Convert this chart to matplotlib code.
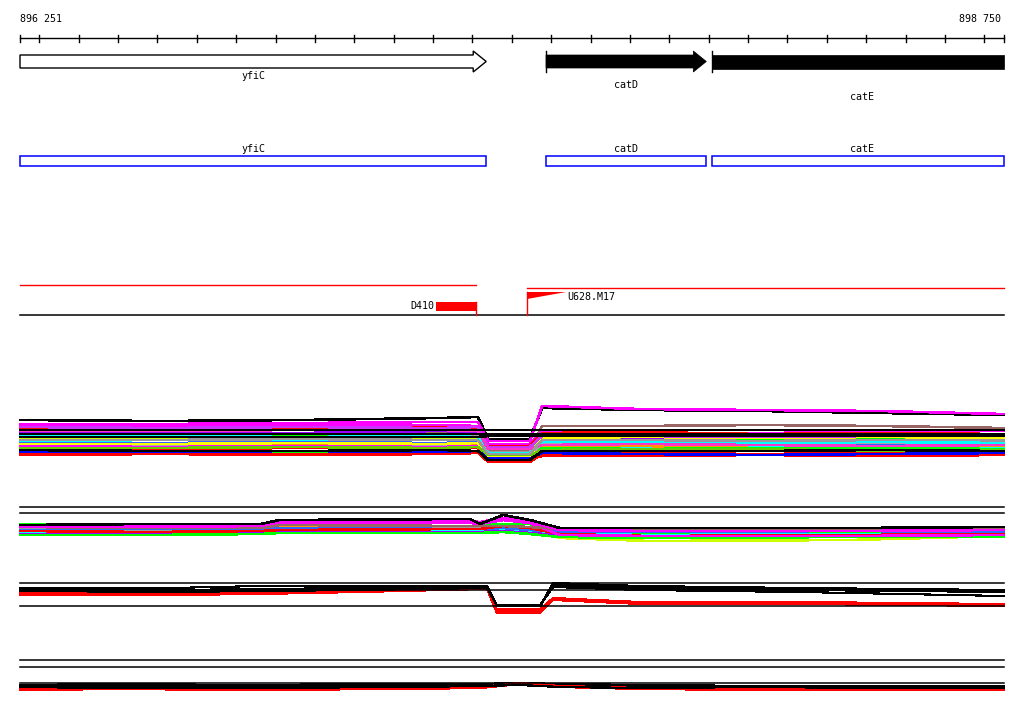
import numpy as np
import matplotlib.pyplot as plt

# genome window
start, end = 896251, 898750
ticks = list(range(896300, 898701, 100))

# genes: name, start, end
gene_names = ["yfiC", "catD", "catE"]
gene_starts = [896251, 897587, 898009]
gene_ends = [897435, 897994, 898750]

# red feature track
d410 = (897307, 897409)
u628 = (897539, 897638)

# expression panel 1 (x positions in bp, values as row positions)
x1 = [896251, 896607, 896962, 897318, 897414, 897440, 897546, 897577, 897826, 898130, 898435, 898750]
p1_lines = [
    ("#000000", [420, 421, 420, 418, 417, 439, 439, 408, 410, 411, 413, 415]),
    ("#ff00ff", [424, 424, 423, 422, 422, 441, 441, 406, 409, 410, 411, 414]),
    ("#996666", [434, 434, 433, 433, 433, 450, 450, 426, 426, 425, 426, 428]),
    ("#ff00ff", [426, 426, 425, 425, 426, 444, 444, 432, 433, 433, 432, 431]),
    ("#ff0000", [429, 428, 428, 427, 428, 446, 446, 433, 432, 434, 433, 434]),
    ("#9900ff", [433, 432, 433, 431, 432, 448, 448, 437, 438, 438, 437, 437]),
    ("#999999", [435, 434, 435, 434, 435, 452, 452, 441, 441, 440, 442, 441]),
    ("#00ff00", [437, 437, 436, 437, 437, 454, 454, 439, 440, 440, 439, 439]),
    ("#ccff00", [439, 438, 438, 439, 438, 455, 455, 435, 436, 436, 435, 436]),
    ("#00ffff", [441, 440, 441, 440, 441, 461, 461, 447, 447, 446, 447, 447]),
    ("#3366ff", [443, 443, 442, 443, 442, 457, 457, 444, 445, 444, 445, 446]),
    ("#ff9900", [445, 445, 444, 445, 444, 456, 456, 446, 446, 448, 447, 446]),
    ("#aaaaaa", [447, 446, 447, 446, 447, 458, 458, 443, 443, 444, 443, 444]),
    ("#ff00ff", [446, 447, 446, 447, 446, 459, 459, 449, 450, 450, 449, 450]),
    ("#ff0000", [449, 449, 448, 449, 448, 457, 457, 452, 452, 451, 452, 452]),
    ("#00ff00", [451, 452, 452, 451, 452, 460, 460, 448, 449, 448, 448, 449]),
    ("#ff0000", [453, 453, 454, 453, 452, 462, 462, 454, 455, 454, 455, 454]),
    ("#ff0000", [455, 454, 455, 454, 453, 459, 459, 456, 456, 455, 456, 455]),
    ("#0000ff", [452, 452, 451, 452, 451, 458, 458, 453, 454, 455, 454, 453]),
    ("#00ffff", [436, 436, 437, 436, 437, 453, 453, 442, 442, 443, 442, 443]),
    ("#ffff00", [444, 444, 443, 444, 443, 456, 456, 438, 437, 438, 437, 438]),
    ("#cc33ff", [427, 428, 427, 428, 427, 447, 447, 436, 436, 437, 436, 436]),
    ("#ff33cc", [431, 431, 430, 430, 431, 449, 449, 445, 444, 445, 446, 445]),
    ("#66cc00", [448, 448, 447, 448, 447, 455, 455, 450, 449, 449, 451, 450]),
    ("#999999", [440, 440, 439, 440, 440, 454, 454, 440, 440, 441, 440, 440]),
    ("#000000", [450, 451, 451, 450, 451, 460, 460, 451, 451, 451, 450, 451]),
    ("#000000", [437, 437, 437, 437, 437, 436, 436, 436, 436, 436, 436, 436]),
    ("#000000", [430, 430, 430, 430, 430, 430, 430, 430, 430, 430, 430, 430]),
    ("#000000", [434, 434, 434, 434, 434, 434, 434, 434, 434, 434, 434, 434]),
]

# expression panel 2
p2_refs = [507, 513]
x2 = [896251, 896581, 896861, 896911, 897394, 897419, 897478, 897546, 897622, 897851, 898359, 898750]
p2_lines = [
    ("#ccff00", [532, 532, 531, 523, 522, 526, 525, 528, 538, 541, 540, 536]),
    ("#00ff00", [524, 525, 524, 520, 519, 525, 524, 524, 533, 534, 533, 532]),
    ("#ff9900", [528, 528, 529, 526, 527, 528, 527, 529, 530, 530, 529, 530]),
    ("#999999", [529, 530, 529, 528, 528, 528, 528, 529, 531, 530, 530, 531]),
    ("#00ffff", [533, 533, 532, 530, 530, 530, 529, 531, 534, 535, 534, 534]),
    ("#3366ff", [530, 529, 530, 528, 529, 529, 528, 530, 532, 532, 531, 532]),
    ("#9900ff", [534, 534, 533, 532, 532, 532, 531, 533, 535, 536, 535, 535]),
    ("#ff0000", [531, 532, 531, 530, 529, 529, 526, 528, 534, 536, 535, 534]),
    ("#00ff00", [535, 535, 534, 533, 533, 533, 532, 534, 537, 538, 537, 537]),
    ("#ff00ff", [526, 526, 527, 524, 523, 524, 520, 523, 535, 536, 536, 535]),
    ("#996666", [527, 528, 528, 525, 526, 526, 526, 527, 529, 529, 530, 529]),
    ("#ff00ff", [527, 527, 526, 522, 521, 522, 518, 522, 530, 531, 531, 530]),
    ("#000000", [525, 524, 524, 520, 519, 524, 515, 520, 528, 528, 528, 527]),
]

# expression panel 3
p3_refs = [583, 590, 606]
x3 = [896251, 896632, 896861, 897114, 897437, 897462, 897572, 897605, 897826, 898232, 898750]
p3_lines = [
    ("#ff0000", [591, 591, 590, 590, 587, 609, 609, 598, 602, 602, 604]),
    ("#ff0000", [593, 593, 592, 591, 588, 611, 611, 598, 603, 603, 605]),
    ("#ff0000", [595, 595, 594, 592, 589, 613, 613, 600, 604, 604, 606]),
    ("#000000", [588, 588, 586, 586, 586, 606, 606, 583, 586, 588, 590]),
    ("#000000", [590, 590, 589, 588, 587, 606, 606, 585, 588, 590, 592]),
    ("#000000", [591, 592, 591, 590, 588, 605, 605, 587, 590, 592, 596]),
]

# expression panel 4
p4_refs = [660, 667, 683]
x4 = [896251, 896505, 896810, 897216, 897419, 897521, 897622, 897826, 898130, 898435, 898750]
p4_lines = [
    ("#000000", [685, 684, 685, 684, 684, 683, 684, 685, 686, 686, 686]),
    ("#000000", [686, 686, 687, 686, 685, 684, 686, 687, 688, 687, 688]),
    ("#ff0000", [689, 688, 690, 688, 687, 683, 686, 688, 689, 689, 690]),
    ("#ff0000", [690, 689, 690, 689, 688, 684, 687, 689, 690, 690, 690]),
    ("#000000", [687, 688, 688, 687, 686, 685, 687, 688, 687, 688, 687]),
]

W, H = 1024, 714
fig = plt.figure(figsize=(W / 100, H / 100), dpi=100)
ax = fig.add_axes([0, 0, 1, 1])
bp = (end - start) / 984.0
ax.set_xlim(start - 20 * bp, start + 1004 * bp)
ax.set_ylim(H, 0)
ax.axis("off")

font = dict(family="DejaVu Sans Mono", fontsize=7.2, color="black")

# ruler
ax.plot([start, end], [38, 38], color="black", lw=1)
for t in [start] + ticks + [end]:
    ax.plot([t, t], [34.5, 41.5], color="black", lw=1)
ax.text(start, 19, "896 251", ha="left", va="center", **font)
ax.text(end - 3 * bp, 19, "898 750", ha="right", va="center", **font)

# gene arrows
head = 33
label_y = [76, 85, 97]
for i, (name, s, e) in enumerate(zip(gene_names, gene_starts, gene_ends)):
    if i == 0:
        xs = [s, e - head, e - head, e, e - head, e - head, s, s]
        ys = [55, 55, 51, 61.5, 72, 68, 68, 55]
        ax.fill(xs, ys, facecolor="white", edgecolor="black", lw=1)
    elif i == 1:
        xs = [s, e - head, e - head, e, e - head, e - head, s]
        ys = [55, 55, 51, 61.5, 72, 68, 68]
        ax.fill(xs, ys, facecolor="black", edgecolor="black", lw=0.5)
        ax.plot([s, s], [51, 72], color="black", lw=1)
    else:
        ax.fill([s, e, e, s], [55, 55, 69, 69], facecolor="black", edgecolor="black", lw=0.5)
        ax.plot([s, s], [51, 72], color="black", lw=1)
    ax.text((s + e) / 2 + (4 * bp if i == 2 else 0), label_y[i], name, ha="center", va="center", **font)
    # blue annotation boxes
    ax.fill([s, e, e, s], [155.5, 155.5, 166, 166], facecolor="none", edgecolor="#0000ff", lw=1.1)
    ax.text((s + e) / 2 + (4 * bp if i == 2 else 0), 149, name, ha="center", va="center", **font)

# red feature track
ax.plot([start, d410[1]], [284.5, 284.5], color="#ff0000", lw=1)
ax.plot([u628[0], end], [287.5, 287.5], color="#ff0000", lw=1)
ax.plot([start, end], [315, 315], color="black", lw=1.1)
ax.fill([d410[0], d410[1], d410[1], d410[0]], [302, 302, 311, 311], color="#ff0000", lw=0)
ax.plot([d410[1], d410[1]], [302, 315], color="#ff0000", lw=1)
ax.text(d410[0] - 1 * bp, 306, "D410", ha="right", va="center", **font)
ax.fill([u628[0], u628[1], u628[0]], [292, 292, 299], color="#ff0000", lw=0)
ax.plot([u628[0], u628[0]], [292, 315], color="#ff0000", lw=1)
ax.text(u628[1] + 1 * bp, 297.5, "U628.M17", ha="left", va="center", **font)

# expression panels
for xs, lines, w in [(x1, p1_lines, 1.15), (x2, p2_lines, 1.15),
                     (x3, p3_lines, 0.8), (x4, p4_lines, 0.9)]:
    for c, ys in lines:
        ax.plot(xs, ys, color=c, lw=w, antialiased=False)
for refs in [p2_refs, p3_refs, p4_refs]:
    for r in refs:
        ax.plot([start, end], [r, r], color="black", lw=1.1)

fig.savefig("out.png", dpi=100)
